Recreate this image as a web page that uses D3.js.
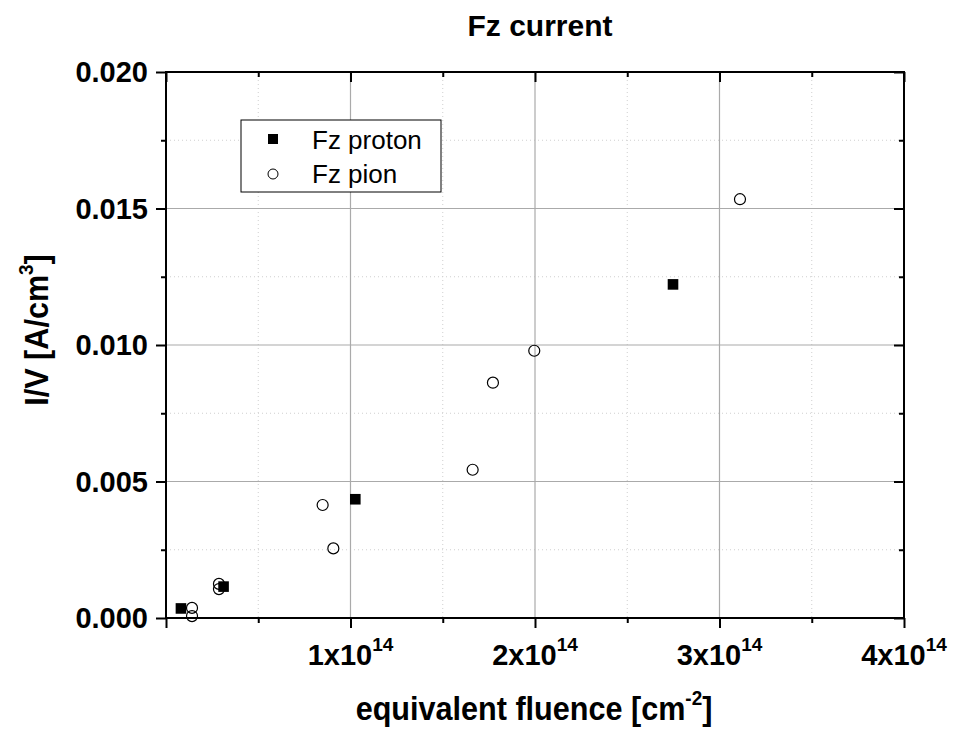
<!DOCTYPE html>
<html>
<head>
<meta charset="utf-8">
<script src="https://d3js.org/d3.v7.min.js"></script>
<style>
  body { margin: 0; background: #fff; }
  svg { font-family: "Liberation Sans", Arial, sans-serif; }
  .grid-major line { stroke: #aaaaaa; stroke-width: 1.2px; }
  .grid-minor line { stroke: #cfcfcf; stroke-width: 1px; stroke-dasharray: 1px 3px; }
  .frame { fill: none; stroke: #000; stroke-width: 2px; }
  .tick-lbl { font-weight: bold; font-size: 29px; fill: #000; }
</style>
</head>
<body>
<script>
// values
const xTicks = [1e14, 2e14, 3e14, 4e14];
const xTickLabels = ['1x10', '2x10', '3x10', '4x10'];
const xTickExp = '14';
const yTicks = [0, 0.005, 0.010, 0.015, 0.020];

const protonX = [8.1e12, 3.12e13, 1.026e14, 2.748e14];
const protonY = [0.00035, 0.00115, 0.00435, 0.01222];

const pionX = [1.41e13, 1.41e13, 2.87e13, 2.87e13, 8.49e13, 9.07e13, 1.662e14, 1.772e14, 1.996e14, 3.111e14];
const pionY = [0.00037, 0.00007, 0.00125, 0.00106, 0.00414, 0.00255, 0.00543, 0.00862, 0.00979, 0.01534];

const legendNames = ['Fz proton', 'Fz pion'];

var margin = {top: 72, right: 49, bottom: 116, left: 166};
var width = 953 - margin.left - margin.right,
    height = 734 - margin.top - margin.bottom;

const x = d3.scaleLinear().domain([0, 4e14]).range([0, width]);
const y = d3.scaleLinear().domain([0, 0.020]).range([height, 0]);

var svg = d3.select('body').append('svg')
    .attr('width', 953)
    .attr('height', 734);

var g = svg.append('g')
    .attr('transform', `translate(${margin.left}, ${margin.top})`);

// minor grid (dotted)
const xMinor = d3.range(0.5e14, 4e14, 1e14);
const yMinor = d3.range(0.0025, 0.02, 0.005);
var gm = g.append('g').attr('class', 'grid-minor');
gm.selectAll('.vx').data(xMinor).enter().append('line')
  .attr('x1', d => x(d)).attr('x2', d => x(d)).attr('y1', 0).attr('y2', height);
gm.selectAll('.hy').data(yMinor).enter().append('line')
  .attr('y1', d => y(d)).attr('y2', d => y(d)).attr('x1', 0).attr('x2', width);

// major grid
var gM = g.append('g').attr('class', 'grid-major');
gM.selectAll('.vx').data(xTicks.slice(0, 3)).enter().append('line')
  .attr('x1', d => x(d)).attr('x2', d => x(d)).attr('y1', 0).attr('y2', height);
gM.selectAll('.hy').data(yTicks.slice(1, 4)).enter().append('line')
  .attr('y1', d => y(d)).attr('y2', d => y(d)).attr('x1', 0).attr('x2', width);

// axes: bottom/left ticks outward, top/right ticks inward
const xAll = d3.range(0, 4.01e14, 0.5e14);
const yAll = d3.range(0, 0.02001, 0.0025);
const isMajorX = d => Math.abs(d / 1e14 - Math.round(d / 1e14)) < 1e-6;
const isMajorY = d => Math.abs(d / 0.005 - Math.round(d / 0.005)) < 1e-6;

g.append('g')
  .attr('transform', `translate(0, ${height})`)
  .call(d3.axisBottom(x).tickValues(xAll).tickFormat('').tickSizeOuter(0))
  .call(a => a.select('.domain').remove())
  .call(a => a.selectAll('.tick line').attr('stroke', '#000').attr('stroke-width', 2)
    .attr('y2', d => isMajorX(d) ? 10 : 5));

g.append('g')
  .call(d3.axisTop(x).tickValues(xAll).tickFormat('').tickSizeOuter(0))
  .call(a => a.select('.domain').remove())
  .call(a => a.selectAll('.tick line').attr('stroke', '#000').attr('stroke-width', 2)
    .attr('y2', d => isMajorX(d) ? 10 : 5));

g.append('g')
  .call(d3.axisLeft(y).tickValues(yAll).tickFormat('').tickSizeOuter(0))
  .call(a => a.select('.domain').remove())
  .call(a => a.selectAll('.tick line').attr('stroke', '#000').attr('stroke-width', 2)
    .attr('x2', d => isMajorY(d) ? -10 : -5));

g.append('g')
  .attr('transform', `translate(${width}, 0)`)
  .call(d3.axisRight(y).tickValues(yAll).tickFormat('').tickSizeOuter(0))
  .call(a => a.select('.domain').remove())
  .call(a => a.selectAll('.tick line').attr('stroke', '#000').attr('stroke-width', 2)
    .attr('x2', d => isMajorY(d) ? -10 : -5));

g.append('rect').attr('class', 'frame')
  .attr('width', width).attr('height', height);

// tick labels
var xl = g.selectAll('.xlbl').data(xTicks).enter().append('text')
  .attr('class', 'tick-lbl')
  .attr('text-anchor', 'middle')
  .attr('x', d => x(d))
  .attr('y', height + 47);
xl.append('tspan').text((d, i) => xTickLabels[i]);
xl.append('tspan').attr('dy', -14).attr('font-size', 19).text(xTickExp);

g.selectAll('.ylbl').data(yTicks).enter().append('text')
  .attr('class', 'tick-lbl')
  .attr('text-anchor', 'end')
  .attr('x', -18)
  .attr('y', d => y(d))
  .attr('dy', '0.36em')
  .text(d => d3.format('.3f')(d));

// points: pion hollow circles, proton filled squares on top
g.selectAll('.pion').data(pionX).enter().append('circle')
  .attr('cx', d => x(d))
  .attr('cy', (d, i) => y(pionY[i]))
  .attr('r', 5.5)
  .attr('fill', 'none')
  .attr('stroke', '#000')
  .attr('stroke-width', 1.2);

g.selectAll('.proton').data(protonX).enter().append('rect')
  .attr('x', d => x(d) - 5.3)
  .attr('y', (d, i) => y(protonY[i]) - 5.3)
  .attr('width', 10.6)
  .attr('height', 10.6)
  .attr('fill', '#000');

// legend
var lg = svg.append('g').attr('transform', 'translate(241, 120)');
lg.append('rect').attr('width', 200).attr('height', 72)
  .attr('fill', '#fff').attr('stroke', '#000').attr('stroke-width', 1);
lg.append('rect').attr('x', 27).attr('y', 14).attr('width', 10).attr('height', 10).attr('fill', '#000');
lg.append('circle').attr('cx', 32).attr('cy', 54).attr('r', 5)
  .attr('fill', 'none').attr('stroke', '#000').attr('stroke-width', 1);
lg.selectAll('.ltxt').data(legendNames).enter().append('text')
  .attr('x', 71)
  .attr('y', (d, i) => 29 + i * 34)
  .attr('font-size', 26)
  .text(d => d);

// title
svg.append('text')
  .attr('x', 540).attr('y', 36)
  .attr('text-anchor', 'middle')
  .attr('font-weight', 'bold')
  .attr('font-size', 30)
  .text('Fz current');

// axis titles (slightly condensed)
var xt = svg.append('text')
  .attr('text-anchor', 'middle')
  .attr('font-weight', 'bold')
  .attr('font-size', 34)
  .attr('transform', 'translate(534, 720) scale(0.9, 1)');
xt.append('tspan').text('equivalent fluence [cm');
xt.append('tspan').attr('dy', -15).attr('font-size', 21).text('-2');
xt.append('tspan').attr('dy', 15).text(']');

var yt = svg.append('text')
  .attr('text-anchor', 'middle')
  .attr('font-weight', 'bold')
  .attr('font-size', 34)
  .attr('transform', 'translate(48, 330) rotate(-90) scale(0.9, 1)');
yt.append('tspan').text('I/V [A/cm');
yt.append('tspan').attr('dy', -15).attr('font-size', 21).text('3');
yt.append('tspan').attr('dy', 15).text(']');
</script>
</body>
</html>
